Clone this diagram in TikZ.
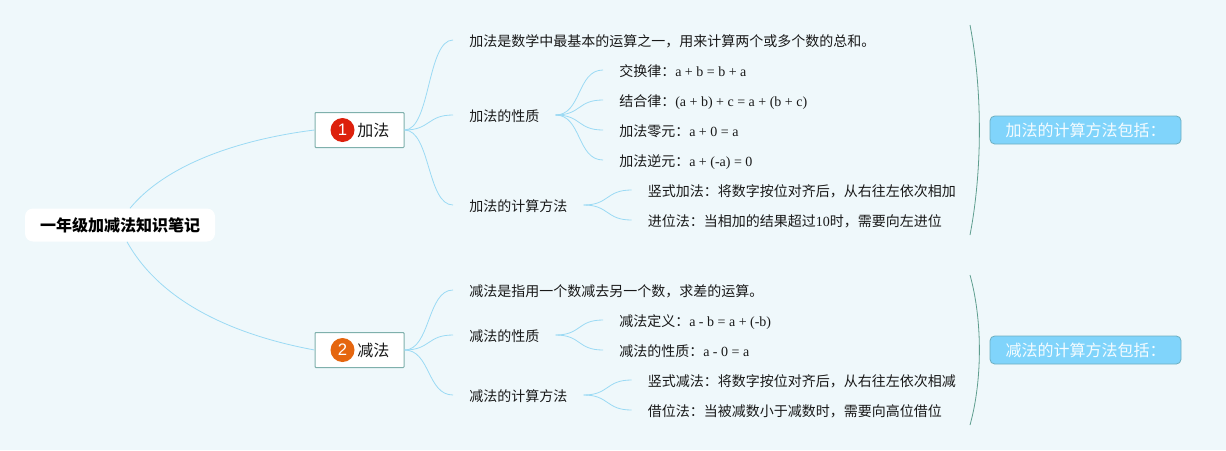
\documentclass[tikz,border=0pt]{standalone}
\usepackage{fontspec}
\setmainfont{Liberation Serif}
\newfontfamily\cjk{Noto Sans CJK SC}
\newfontfamily\badgefont{Liberation Sans}
\definecolor{bgc}{HTML}{EFF8FB}
\definecolor{linkc}{HTML}{9BDAF4}
\definecolor{edgec}{HTML}{7FB0AC}
\definecolor{arcc}{HTML}{5F9E8F}
\definecolor{sumfill}{HTML}{80D4FB}
\definecolor{sumedge}{HTML}{6DAFC0}
\definecolor{badgea}{HTML}{DD200C}
\definecolor{badgeb}{HTML}{E5660F}
\tikzset{
  x=0.75pt,y=-0.75pt,
  link/.style={draw=linkc,line width=0.6pt},
  arcline/.style={draw=arcc,line width=0.6pt},
  leaf/.style={anchor=west,inner xsep=12pt,inner ysep=0pt,text height=11pt,text depth=2pt,font=\cjk\fontsize{10.5}{12}\selectfont,text=black!90},
  rootbox/.style={fill=white,rounded corners=6pt,minimum width=142.5pt,minimum height=24.75pt,inner sep=0pt,font=\cjk\bfseries\fontsize{12}{14}\selectfont,text=black},
  topic/.style={draw=edgec,fill=white,line width=0.75pt,rounded corners=0.6pt,minimum width=66.75pt,minimum height=26.25pt,inner sep=0pt},
  topictext/.style={anchor=west,inner sep=0pt,font=\cjk\fontsize{12}{14}\selectfont,text=black!90},
  badge/.style={circle,minimum size=18pt,inner sep=0pt,text=white,font=\badgefont\fontsize{12.5}{14}\selectfont},
  sumbox/.style={draw=sumedge,fill=sumfill,line width=0.6pt,rounded corners=3.5pt,minimum width=143.25pt,minimum height=21pt,inner sep=0pt,font=\cjk\fontsize{12}{14}\selectfont,text=white!92!sumfill},
}
\newcommand{\mylink}[2]{\path[link] (#1.east) .. controls +(26,0) and +(-26,0) .. (#2.west);}
\newcommand{\ltn}[1]{{\rmfamily\fontsize{10.5}{12}\selectfont #1}}
\begin{document}
\begin{tikzpicture}
\path[fill=bgc] (0,0) rectangle (1226,450);
\useasboundingbox (0,0) rectangle (1226,450);

\node[rootbox] (root) at (120,225) {\raisebox{-0.6pt}{一年级加减法知识笔记}};
\node[topic] (t1) at (359.5,130) {};
\node[badge,fill=badgea] (b1) at (342.5,130) {1};
\node[topictext] (t1t) at (357,130.5) {加法};
\node[topic] (t2) at (359.5,350) {};
\node[badge,fill=badgeb] (b2) at (342.5,350) {2};
\node[topictext] (t2t) at (357,350.5) {减法};

\node[leaf] (a1) at (453,40) {加法是数学中最基本的运算之一，用来计算两个或多个数的总和。};
\node[leaf] (a2) at (453,115) {加法的性质};
\node[leaf] (a3) at (453,205) {加法的计算方法};
\node[leaf] (a21) at (603,70) {交换律：\ltn{a + b = b + a}};
\node[leaf] (a22) at (603,100) {结合律：\ltn{(a + b) + c = a + (b + c)}};
\node[leaf] (a23) at (603,130) {加法零元：\ltn{a + 0 = a}};
\node[leaf] (a24) at (603,160) {加法逆元：\ltn{a + (-a) = 0}};
\node[leaf] (a31) at (631.5,190) {竖式加法：将数字按位对齐后，从右往左依次相加};
\node[leaf] (a32) at (631.5,220) {进位法：当相加的结果超过\ltn{10}时，需要向左进位};

\node[leaf] (s1) at (453,290) {减法是指用一个数减去另一个数，求差的运算。};
\node[leaf] (s2) at (453,335) {减法的性质};
\node[leaf] (s3) at (453,395) {减法的计算方法};
\node[leaf] (s21) at (603,320) {减法定义：\ltn{a - b = a + (-b)}};
\node[leaf] (s22) at (603,350) {减法的性质：\ltn{a - 0 = a}};
\node[leaf] (s31) at (631.5,380) {竖式减法：将数字按位对齐后，从右往左依次相减};
\node[leaf] (s32) at (631.5,410) {借位法：当被减数小于减数时，需要向高位借位};

\node[sumbox] (sa) at (1085.5,130) {加法的计算方法包括：\hspace{12pt}};
\node[sumbox] (sb) at (1085.5,350) {减法的计算方法包括：\hspace{12pt}};

\path[link] (root.north) ++(10,0) .. controls (170,160) and (250,138) .. (t1.west);
\path[link] (root.south) ++(7,0) .. controls (165,310) and (250,338) .. (t2.west);

\mylink{t1}{a1}\mylink{t1}{a2}\mylink{t1}{a3}
\mylink{a2}{a21}\mylink{a2}{a22}\mylink{a2}{a23}\mylink{a2}{a24}
\mylink{a3}{a31}\mylink{a3}{a32}
\mylink{t2}{s1}\mylink{t2}{s2}\mylink{t2}{s3}
\mylink{s2}{s21}\mylink{s2}{s22}
\mylink{s3}{s31}\mylink{s3}{s32}

\coordinate (ua) at (970,25);
\coordinate (ub) at (970,235);
\coordinate (la) at (970,275);
\coordinate (lb) at (970,425);
\path[arcline] (ua) .. controls (982.5,90) and (982.5,170) .. (ub);
\path[arcline] (la) .. controls (982.5,320) and (982.5,380) .. (lb);
\end{tikzpicture}
\end{document}
